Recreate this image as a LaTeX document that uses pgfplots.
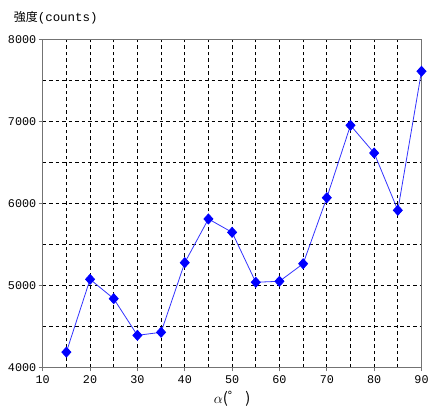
\documentclass[border=0pt]{standalone}
\usepackage{pgfplots}
\pgfplotsset{compat=1.18}
\usepackage{fontspec}
\setmainfont{Noto Sans CJK JP}
\newfontfamily\monofont{Liberation Mono}
\begin{document}
\begin{tikzpicture}
\begin{pgfinterruptboundingbox}
\begin{axis}[
  name=main,
  scale only axis,
  width=378.8bp, height=328bp,
  xmin=10, xmax=90, ymin=4000, ymax=8000,
  xtick={10,20,...,90}, ytick={4000,5000,...,8000},
  minor xtick={15,25,...,85}, minor ytick={4500,5500,6500,7500},
  grid=both,
  major grid style={black, dash pattern=on 3.5bp off 3bp, line width=0.9bp},
  minor grid style={black, dash pattern=on 3.5bp off 3bp, line width=0.9bp},
  axis line style={gray!90!black, line width=1.1bp},
  tick style={gray!90!black, line width=0.9bp},
  tick align=outside,
  major tick length=4bp, minor tick length=0bp,
  xtick pos=bottom, ytick pos=left,
  /pgf/number format/assume math mode=true,
  /pgf/number format/1000 sep={},
  tick label style={font=\monofont\fontsize{11.8}{14}\selectfont},
  xticklabel style={yshift=-1bp},
  yticklabel style={xshift=1bp},
]
\addplot[color=blue!80!white, line width=0.8bp, mark=diamond*,
  mark size=5bp, mark options={fill=blue, draw=blue, solid, xscale=1.2}]
  coordinates {
  (15,4185) (20,5073) (25,4837) (30,4390) (35,4427) (40,5276)
  (45,5809) (50,5646) (55,5037) (60,5049) (65,5263) (70,6068)
  (75,6951) (80,6613) (85,5915) (90,7610)
  };
\end{axis}
\node[anchor=base west, inner sep=0pt]
  at ([xshift=-29bp, yshift=17.5bp]main.north west)
  {\fontsize{12}{14}\selectfont 強度\monofont\fontsize{12.5}{14}\selectfont(counts)};
\node[anchor=base, font=\fontsize{15}{17}\selectfont, inner sep=0pt]
  at ([yshift=-36bp]main.south) {$\alpha$(゜\,)};
\end{pgfinterruptboundingbox}
\useasboundingbox ([xshift=-42.7bp, yshift=-41.7bp]main.south west)
  rectangle ([xshift=6.5bp, yshift=39.3bp]main.north east);
\end{tikzpicture}
\end{document}
